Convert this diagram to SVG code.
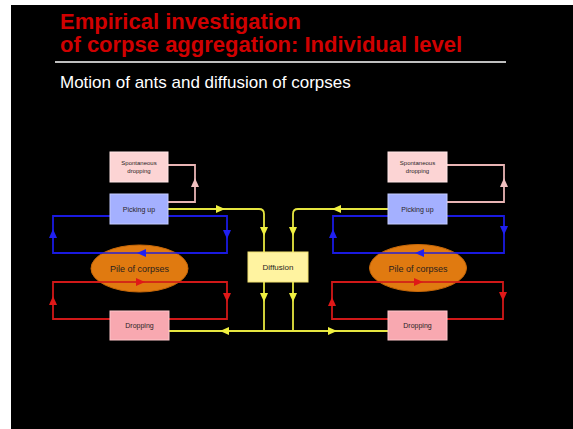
<svg xmlns="http://www.w3.org/2000/svg" width="573" height="429" viewBox="0 0 573 429">
<style>
.t{font-family:"Liberation Sans",Arial,sans-serif}
.title{fill:#d00000;font-weight:bold;font-size:22px}
.sub{fill:#ffffff;font-size:17px}
.lbl{fill:#2a1e1e;font-size:7px;text-anchor:middle}
.box-sp{fill:#fcd4d4;stroke:#ffe6e6;stroke-width:1}
.box-pu{fill:#a4b0ff;stroke:#c4ccff;stroke-width:1}
.box-dr{fill:#f8a8b0;stroke:#ffc8cc;stroke-width:1}
.box-df{fill:#fff3a0;stroke:#f2e270;stroke-width:1}
.pile{fill:#e07a10;stroke:#c86808;stroke-width:1}
.ln{fill:none;stroke-width:1.8}
.y{stroke:#e6e640}
.b{stroke:#1a1ae0}
.r{stroke:#d01818}
.p{stroke:#e8b4b4}
.ay{fill:#f0f040}
.ab{fill:#2020f0}
.ar{fill:#e01818}
.ap{fill:#f0c0c0}
</style>
<defs>
<polygon id="tri" points="5,0 -4,-4 -4,4"/>
</defs>
<rect x="0" y="0" width="573" height="429" fill="#ffffff"/>
<rect x="11" y="5" width="562" height="424" fill="#000000"/>

<g id="title">
<text class="t title" x="60" y="29">Empirical investigation</text>
<text class="t title" x="60" y="52">of corpse aggregation: Individual level</text>
<line x1="55" y1="62" x2="506" y2="62" stroke="#ffffff" stroke-width="1.5"/>
<text class="t sub" x="60" y="88">Motion of ants and diffusion of corpses</text>
</g>

<g id="connectors">
<path class="ln y" d="M168,209 H259 Q264,209 264,214 V331"/>
<path class="ln y" d="M388,209 H298 Q293,209 293,214 V331"/>
<path class="ln y" d="M169,331 H388"/>
<path class="ln p" d="M168,165 H195 V202 H168"/>
<path class="ln p" d="M447,165 H504 V202 H447"/>
<path class="ln b" d="M110,216 H53 V253 H227 V216 H168"/>
<path class="ln b" d="M388,216 H333 V253 H504 V216 H447"/>
<path class="ln r" d="M110,319 H53 V282 H227 V319 H169"/>
<path class="ln r" d="M388,319 H332 V282 H503 V319 H447"/>
</g>

<g id="pile-left">
<ellipse class="pile" cx="139.5" cy="268.5" rx="48.5" ry="23.5"/>
<text class="t lbl" x="139.5" y="272" style="font-size:9px">Pile of corpses</text>
</g>
<g id="pile-right">
<ellipse class="pile" cx="418" cy="268" rx="48.5" ry="23.5"/>
<text class="t lbl" x="418" y="271.5" style="font-size:9px">Pile of corpses</text>
</g>

<g id="connectors-over">
<path class="ln b" d="M91,253 H188" opacity="0.7"/>
<path class="ln b" d="M370,253 H466" opacity="0.7"/>
<path class="ln r" d="M91,282 H188" opacity="0.8"/>
<path class="ln r" d="M370,282 H466" opacity="0.8"/>
<use href="#tri" class="ay" transform="translate(220,209)"/>
<use href="#tri" class="ay" transform="translate(337,209) rotate(180)"/>
<use href="#tri" class="ay" transform="translate(264,231) rotate(90)"/>
<use href="#tri" class="ay" transform="translate(293,231) rotate(90)"/>
<use href="#tri" class="ay" transform="translate(264,297) rotate(90)"/>
<use href="#tri" class="ay" transform="translate(293,297) rotate(90)"/>
<use href="#tri" class="ay" transform="translate(225,331) rotate(180)"/>
<use href="#tri" class="ay" transform="translate(332,331)"/>
<use href="#tri" class="ap" transform="translate(195,183) rotate(-90)"/>
<use href="#tri" class="ap" transform="translate(504,183) rotate(-90)"/>
<use href="#tri" class="ab" transform="translate(53,234) rotate(-90)"/>
<use href="#tri" class="ab" transform="translate(227,234) rotate(90)"/>
<use href="#tri" class="ab" transform="translate(142,253) rotate(180)"/>
<use href="#tri" class="ab" transform="translate(333,234) rotate(-90)"/>
<use href="#tri" class="ab" transform="translate(504,230) rotate(90)"/>
<use href="#tri" class="ab" transform="translate(420,253) rotate(180)"/>
<use href="#tri" class="ar" transform="translate(53,301) rotate(-90)"/>
<use href="#tri" class="ar" transform="translate(227,297) rotate(90)"/>
<use href="#tri" class="ar" transform="translate(140,282)"/>
<use href="#tri" class="ar" transform="translate(332,302) rotate(-90)"/>
<use href="#tri" class="ar" transform="translate(503,296) rotate(90)"/>
<use href="#tri" class="ar" transform="translate(418,282)"/>
</g>

<g id="spont-left">
<rect class="box-sp" x="110" y="152" width="58" height="30"/>
<text class="t lbl" x="139" y="165" style="font-size:6px">Spontaneous</text>
<text class="t lbl" x="139" y="173" style="font-size:6px">dropping</text>
</g>
<g id="pick-left">
<rect class="box-pu" x="110" y="194" width="58" height="30"/>
<text class="t lbl" x="139" y="211.5">Picking up</text>
</g>
<g id="drop-left">
<rect class="box-dr" x="110" y="311" width="59" height="29"/>
<text class="t lbl" x="139.5" y="328">Dropping</text>
</g>
<g id="diffusion">
<rect class="box-df" x="248" y="252" width="60" height="30"/>
<text class="t lbl" x="278" y="270" style="font-size:8px">Diffusion</text>
</g>
<g id="spont-right">
<rect class="box-sp" x="388" y="152" width="59" height="30"/>
<text class="t lbl" x="417.5" y="165" style="font-size:6px">Spontaneous</text>
<text class="t lbl" x="417.5" y="173" style="font-size:6px">dropping</text>
</g>
<g id="pick-right">
<rect class="box-pu" x="388" y="194" width="59" height="30"/>
<text class="t lbl" x="417.5" y="211.5">Picking up</text>
</g>
<g id="drop-right">
<rect class="box-dr" x="388" y="311" width="59" height="29"/>
<text class="t lbl" x="417.5" y="328">Dropping</text>
</g>
</svg>
